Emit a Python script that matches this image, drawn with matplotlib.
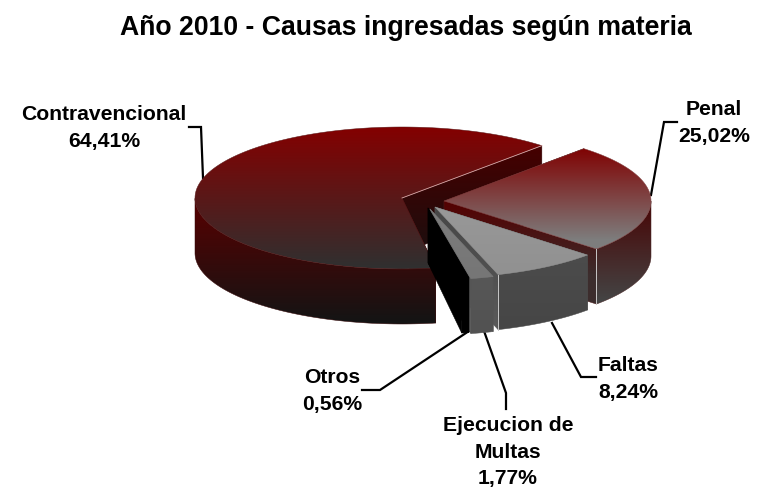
import numpy as np
import matplotlib
matplotlib.use("Agg")
import matplotlib.pyplot as plt
from matplotlib.patches import Polygon

plt.rcParams['font.family'] = ['Liberation Sans', 'DejaVu Sans']

# --- data ---
TITLE = "Año 2010 - Causas ingresadas según materia"
categories = ["Penal", "Faltas", "Ejecucion de\nMultas", "Otros", "Contravencional"]
values = [25.02, 8.24, 1.77, 0.56, 64.41]

# --- layout (pixels) ---
W, H = 760, 490
BASE = (402, 198)
RX, RY, DEPTH = 207, 71, 55
START = 47.5
apex_offset = [(42, 3), (33, 9), (28, 11), (26, 10), (0, 0)]
draw_order = [4, 0, 1, 2, 3]

# --- styles: top (c0,y0,c1,y1), side (c0,y0,c1,y1), wall (c0,y0,c1,y1)
top_styles = [((128, 0, 0), 147, (125, 125, 125), 240),
              ((152, 152, 152), 207, (145, 145, 145), 273),
              ((125, 125, 125), 209, (118, 118, 118), 277),
              ((0, 0, 0), 209, (0, 0, 0), 277),
              ((132, 0, 0), 127, (48, 48, 48), 268)]
side_styles = [((72, 4, 4), 201, (68, 68, 68), 301),
               ((76, 76, 76), 250, (70, 70, 70), 330),
               ((88, 88, 88), 270, (82, 82, 82), 330),
               ((0, 0, 0), 270, (0, 0, 0), 330),
               ((90, 0, 0), 197, (20, 20, 20), 322)]
wall_styles = [((85, 0, 0), 201, (60, 45, 45), 275),
               ((70, 70, 70), 207, (90, 90, 90), 330),
               ((80, 80, 80), 207, (90, 90, 90), 330),
               ((0, 0, 0), 207, (0, 0, 0), 330),
               ((70, 0, 0), 147, (28, 14, 14), 250)]

label_pos = [(714, 123), (628, 379), (508, 452), (332, 391), (104, 128)]
leaders = [[(651, 195), (664, 122), (677, 122)],
           [(552, 323), (581, 377), (596, 377)],
           [(484, 331), (506, 393), (506, 409)],
           [(469, 331), (380, 390), (362, 390)],
           [(203, 178), (201, 127), (189, 127)]]

fig = plt.figure(figsize=(W / 100, H / 100), dpi=100, facecolor='white')
ax = fig.add_axes([0, 0, 1, 1])


def fill(xy, style, z):
    xy = np.asarray(xy, float)
    c0, y0, c1, y1 = style
    ymin, ymax = xy[:, 1].min(), xy[:, 1].max()
    ys = np.arange(np.floor(ymin) - 1, np.ceil(ymax) + 2)
    f = np.clip((ys - y0) / (y1 - y0), 0, 1)[:, None, None]
    arr = (np.array(c0)[None, None, :] * (1 - f) + np.array(c1)[None, None, :] * f) / 255
    im = ax.imshow(arr, extent=(xy[:, 0].min() - 1, xy[:, 0].max() + 1, ys[-1] + .5, ys[0] - .5),
                   origin='upper', aspect='auto', zorder=z, interpolation='nearest')
    clip = Polygon(xy, closed=True, transform=ax.transData, fc='none', ec='none', zorder=z)
    ax.add_patch(clip)
    im.set_clip_path(clip)
    # soften the clip edge
    ax.add_patch(Polygon(xy, closed=True, fc='none', ec=tuple(np.array(c0) / 510 + np.array(c1) / 510),
                         lw=0.35, zorder=z + 0.01))


def pt(c, t):
    return c[0] + RX * np.cos(t), c[1] - RY * np.sin(t)


# angular extent of each slice, clockwise from START
ends = START - np.cumsum(np.array(values) / 100 * 360)
starts = np.concatenate([[START], ends[:-1]])

z = 2
for i in draw_order:
    a1, a0 = starts[i], ends[i]
    c = (BASE[0] + apex_offset[i][0], BASE[1] + apex_offset[i][1])
    ts = np.radians(np.linspace(a0, a1, 200))
    arc = np.column_stack(pt(c, ts))
    top = np.vstack([[c], arc])
    # radial walls
    for t_end in (a0, a1):
        p = np.array(pt(c, np.radians(t_end)))
        wall = [c, p, p + (0, DEPTH), (c[0], c[1] + DEPTH)]
        fill(wall, wall_styles[i], z)
        z += 1
    # outer side: portion of the rim facing the viewer
    vis = np.sin(ts) <= 0.001
    if vis.any():
        rim = arc[vis]
        side = np.vstack([rim, (rim + (0, DEPTH))[::-1]])
        fill(side, side_styles[i], z)
        z += 1
    fill(top, top_styles[i], z)
    z += 1
    # thin light highlights on the bevelled edges
    p = np.array(pt(c, np.radians(a0)))
    if i in (0, 1):
        ax.plot([p[0], p[0]], [p[1], p[1] + DEPTH], color='#c8c8c8', lw=0.7, zorder=z)
        z += 1
    if i == 4:
        ax.plot([c[0], p[0]], [c[1], p[1]], color='#d8a8a8', lw=0.6, zorder=z)
        z += 1

z += 1
for pts, name, v, pos in zip(leaders, categories, values, label_pos):
    xs, ys = zip(*pts)
    ax.plot(xs, ys, color='black', lw=1.6, zorder=1, solid_joinstyle='miter')
    ax.text(pos[0], pos[1], f"{name}\n{v:.2f}%".replace('.', ','), ha='center', va='center',
            fontsize=15.2, fontweight='bold', linespacing=1.52, color='black', zorder=z)

ax.text(406, 28, TITLE, ha='center', va='center', fontsize=19.2, fontweight='bold', color='black')

ax.set_xlim(0, W)
ax.set_ylim(H, 0)
ax.axis('off')
fig.savefig('out.png', dpi=100, facecolor='white')
